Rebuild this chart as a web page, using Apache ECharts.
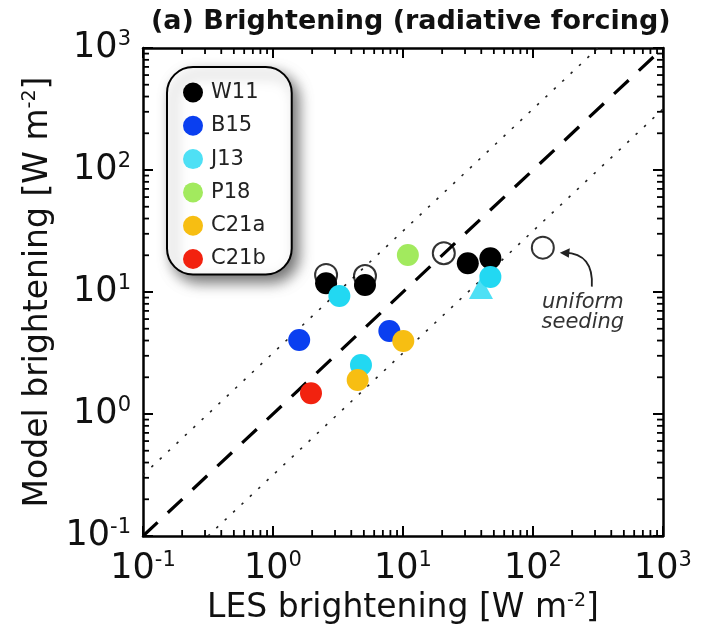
<!DOCTYPE html>
<html>
<head>
<meta charset="utf-8">
<script src="https://cdn.jsdelivr.net/npm/echarts@6/dist/echarts.min.js"></script>
<style>
html,body{margin:0;padding:0;background:#fff;}
#chart{width:713px;height:636px;}
</style>
</head>
<body>
<div id="chart"></div>
<script>
// ---- data (LES brightening, Model brightening) in W m^-2 ----
const w11 = [[2.56, 11.8], [5.1, 11.4], [31.5, 17.2], [47, 18.9]];
const w11Open = [[2.56, 13.8], [5.1, 13.5], [20.6, 20.8], [119, 23.1]];
const b15 = [[1.59, 4.04], [7.85, 4.79]];
const j13 = [[3.24, 9.27], [4.75, 2.52], [47, 13.3]];
const j13Triangle = [[39.8, 10.8]];
const p18 = [[10.9, 20.1]];
const c21a = [[10.05, 3.97], [4.48, 1.9]];
const c21b = [[1.96, 1.48]];
const uniformSeeding = [119, 23.1];
// reference lines
const oneToOne = [[0.1, 0.1], [1000, 1000]];
const upperLine = [[0.1, 0.316], [316, 1000]];
const lowerLine = [[0.316, 0.1], [1000, 316]];
// axis structure
const axisMin = 0.1, axisMax = 1000;
const decades = [0.1, 1, 10, 100];
const minorMult = [2, 3, 4, 5, 6, 7, 8, 9];
const legendNames = ['W11', 'B15', 'J13', 'P18', 'C21a', 'C21b'];
const colors = {W11: '#000000', B15: '#0a3ff0', J13: '#22d8f2', P18: '#a2ea5e', C21a: '#f7be12', C21b: '#f2220f'};

const minorTicks = [];
decades.forEach(d => minorMult.forEach(m => minorTicks.push(d * m)));
const minorData = [];
minorTicks.forEach(v => { minorData.push([v, 1, 0]); minorData.push([1, v, 1]); });

const FONT = 'DejaVu Sans';
const tickFmt = v => {
  const e = Math.round(Math.log10(v));
  return '{b|10}{s|' + e + '}';
};
const tickRich = {
  b: {fontSize: 35, fontFamily: FONT, color: '#111'},
  s: {fontSize: 21, fontFamily: FONT, color: '#111', padding: [0, 0, 17, 0]}
};
const nameRich = {
  n: {fontSize: 33, fontFamily: FONT, color: '#111'},
  s: {fontSize: 19, fontFamily: FONT, color: '#111', padding: [0, 0, 16, 0]}
};

const chart = echarts.init(document.getElementById('chart'), null, {renderer: 'canvas'});

const axisCommon = {
  type: 'log', logBase: 10, min: axisMin, max: axisMax,
  splitLine: {show: false},
  axisLine: {show: true, lineStyle: {color: '#000', width: 2.5}},
  axisTick: {show: true, inside: true, length: 10, lineStyle: {color: '#000', width: 2}},
  minorTick: {show: false}
};

const filled = (name, data, z) => ({
  name, type: 'scatter', data, symbol: 'circle', symbolSize: 22, z,
  itemStyle: {color: colors[name], opacity: 1}
});

const option = {
  animation: false,
  backgroundColor: '#fff',
  title: {
    text: '(a) Brightening (radiative forcing)',
    left: 146, top: 3,
    textStyle: {fontFamily: FONT, fontWeight: 'bold', fontSize: 27, color: '#111'}
  },
  grid: {left: 143, right: 50, top: 48, bottom: 100, containLabel: false},
  xAxis: [
    Object.assign({}, axisCommon, {
      position: 'bottom',
      name: '{n|LES brightening [W m}{s|-2}{n|]}',
      nameLocation: 'middle', nameGap: 45,
      nameTextStyle: {rich: nameRich},
      axisLabel: {formatter: tickFmt, rich: tickRich, margin: 14}
    }),
    Object.assign({}, axisCommon, {position: 'top', axisLabel: {show: false}})
  ],
  yAxis: [
    Object.assign({}, axisCommon, {
      position: 'left',
      name: '{n|Model brightening [W m}{s|-2}{n|]}',
      nameLocation: 'middle', nameGap: 74, nameRotate: 90,
      nameTextStyle: {rich: nameRich},
      axisLabel: {formatter: tickFmt, rich: tickRich, margin: 12}
    }),
    Object.assign({}, axisCommon, {position: 'right', axisLabel: {show: false}})
  ],
  legend: {
    data: legendNames,
    orient: 'vertical', left: 167, top: 67,
    icon: 'circle', itemWidth: 20, itemHeight: 20, itemGap: 12.3,
    padding: [15, 26, 5, 16],
    backgroundColor: '#fff', borderColor: '#000', borderWidth: 2, borderRadius: 26,
    shadowBlur: 14, shadowColor: 'rgba(0,0,0,0.55)', shadowOffsetX: 6, shadowOffsetY: 7,
    textStyle: {fontFamily: FONT, fontSize: 21, color: '#222', padding: [0, 0, 0, 3]},
    selectedMode: false
  },
  series: [
    {
      type: 'custom', silent: true, z: 1, data: minorData,
      encode: {x: 0, y: 1},
      renderItem: function (params, api) {
        const cs = params.coordSys;
        const flag = api.value(2);
        const style = {stroke: '#000', lineWidth: 1.8};
        if (flag === 0) {
          const px = api.coord([api.value(0), 1])[0];
          return {type: 'group', children: [
            {type: 'line', shape: {x1: px, y1: cs.y + cs.height, x2: px, y2: cs.y + cs.height - 6}, style},
            {type: 'line', shape: {x1: px, y1: cs.y, x2: px, y2: cs.y + 6}, style}
          ]};
        } else {
          const py = api.coord([1, api.value(1)])[1];
          return {type: 'group', children: [
            {type: 'line', shape: {x1: cs.x, y1: py, x2: cs.x + 6, y2: py}, style},
            {type: 'line', shape: {x1: cs.x + cs.width, y1: py, x2: cs.x + cs.width - 6, y2: py}, style}
          ]};
        }
      }
    },
    {type: 'line', data: upperLine, symbol: 'none', silent: true, z: 2,
     lineStyle: {color: '#222', width: 1.6, type: [2.5, 9]}},
    {type: 'line', data: lowerLine, symbol: 'none', silent: true, z: 2,
     lineStyle: {color: '#222', width: 1.6, type: [2.5, 9]}},
    {type: 'line', data: oneToOne, symbol: 'none', silent: true, z: 2,
     lineStyle: {color: '#000', width: 3.2, type: [20, 14]}},
    {name: 'W11 open', type: 'scatter', data: w11Open, symbol: 'circle', symbolSize: 22, z: 3,
     itemStyle: {color: 'rgba(255,255,255,0)', borderColor: '#000', borderWidth: 2}},
    filled('W11', w11, 4),
    filled('B15', b15, 4),
    {name: 'J13', type: 'scatter', data: j13Triangle, symbol: 'triangle', symbolSize: [24, 22], z: 4,
     itemStyle: {color: colors.J13}},
    filled('J13', j13, 4),
    filled('P18', p18, 4),
    filled('C21a', c21a, 4),
    filled('C21b', c21b, 4)
  ]
};
chart.setOption(option);

// annotation anchored on the uniform-seeding point
const p = chart.convertToPixel({xAxisIndex: 0, yAxisIndex: 0}, uniformSeeding);
chart.setOption({
  graphic: [
    {type: 'bezierCurve', silent: true, z: 10,
     shape: {x1: p[0] + 49, y1: p[1] + 39, cpx1: p[0] + 51, cpy1: p[1] + 6, x2: p[0] + 22, y2: p[1] + 5},
     style: {stroke: '#222', lineWidth: 1.8, fill: null}},
    {type: 'polygon', silent: true, z: 10,
     shape: {points: [[p[0] + 17, p[1] + 5], [p[0] + 27, p[1] + 0.5], [p[0] + 26, p[1] + 10]]},
     style: {fill: '#222'}},
    {type: 'text', silent: true, z: 10, x: p[0] + 40, y: p[1] + 55,
     style: {text: 'uniform', fontFamily: FONT, fontStyle: 'italic', fontSize: 21, fill: '#333',
             align: 'center', verticalAlign: 'middle'}},
    {type: 'text', silent: true, z: 10, x: p[0] + 40, y: p[1] + 75,
     style: {text: 'seeding', fontFamily: FONT, fontStyle: 'italic', fontSize: 21, fill: '#333',
             align: 'center', verticalAlign: 'middle'}}
  ]
});
</script>
</body>
</html>
